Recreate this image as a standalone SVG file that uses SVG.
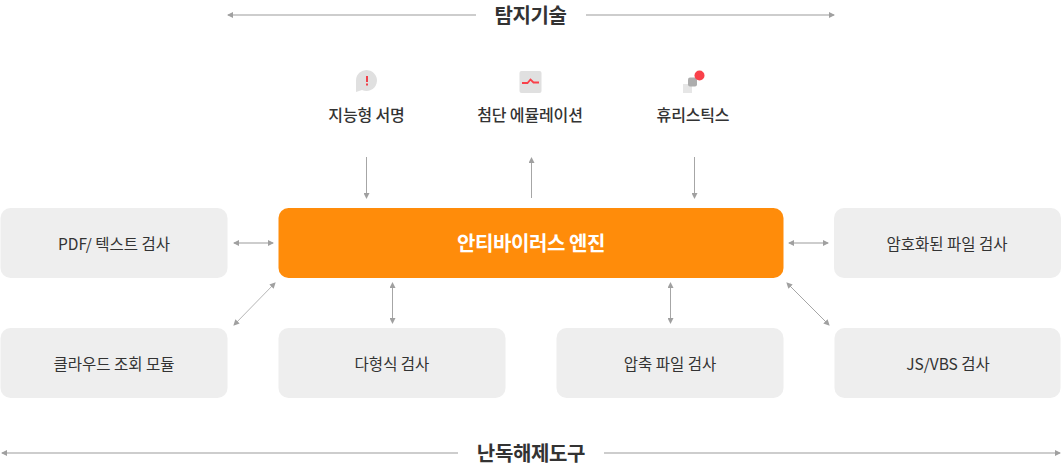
<svg xmlns="http://www.w3.org/2000/svg" width="1062" height="468" viewBox="0 0 1062 468">
<style>
text{font-family:"Noto Sans CJK KR","Noto Sans",sans-serif;text-anchor:middle;fill:#333}
.lab{font-size:15.500px;font-weight:400}
.head{font-size:20px;font-weight:700;fill:#333;letter-spacing:-.35px}
.sub{font-size:16px;font-weight:500;letter-spacing:-.15px}
.box{fill:#eeeeee}
.c{stroke:#a6a6a6;stroke-width:1;fill:none;marker-end:url(#a);marker-start:url(#b)}
.o{marker-start:none}
.h{stroke:#bcbcbc;stroke-width:1.500}
</style>
<defs>
<marker id="a" viewBox="0 0 6 6" refX="5" refY="3" markerWidth="6" markerHeight="6" orient="auto" markerUnits="userSpaceOnUse"><path d="M0 0L6 3L0 6Z" fill="#a0a0a0"/></marker>
<marker id="b" viewBox="0 0 6 6" refX="1" refY="3" markerWidth="6" markerHeight="6" orient="auto" markerUnits="userSpaceOnUse"><path d="M6 0L0 3L6 6Z" fill="#a0a0a0"/></marker>
</defs>
<g id="connectors">
<path class="c o h" d="M476 15H228" />
<path class="c o h" d="M586 15H834" />
<path class="c o h" d="M458 453H2" />
<path class="c o h" d="M604 453H1060" />
<path class="c o" d="M366.500 157V198" />
<path class="c o" d="M531.500 198V158" />
<path class="c o" d="M694.500 157V198" />
<path class="c h" d="M234 243H273" />
<path class="c h" d="M789 243H828" />
<path class="c" d="M392.500 283V323" />
<path class="c" d="M670.500 283V323" />
<path class="c" d="M234 325L275 283" style="stroke:#b5b5b5"/>
<path class="c" d="M787 283L829 325" />
</g>
<g id="title-top"><text class="head" x="530.500" y="23">탐지기술</text></g>
<g id="title-bottom"><text class="head" x="531" y="461">난독해제도구</text></g>
<g id="node-signature">
<path d="M356 92V80.500A10.500 10.500 0 1 1 362 90Z" fill="#e0e0e0"/>
<rect x="366" y="76" width="2" height="6" fill="#f0414a"/><rect x="366" y="83.500" width="2" height="2" fill="#f0414a"/>
<text class="sub" x="366.500" y="121">지능형 서명</text>
</g>
<g id="node-emulation">
<rect x="519.500" y="71" width="22" height="22" rx="2" fill="#e0e0e0"/>
<path d="M522 83H527.500L530.500 79.500L533.500 82.500H539" fill="none" stroke="#f9414a" stroke-width="1.800"/>
<text class="sub" x="530" y="121">첨단 에뮬레이션</text>
</g>
<g id="node-heuristic">
<rect x="683" y="84" width="9" height="9" fill="#e6e6e6"/>
<rect x="688" y="77.500" width="9" height="9" rx="2" fill="#adadad"/>
<circle cx="699.500" cy="75.500" r="5" fill="#f9414a"/>
<text class="sub" x="693" y="121">휴리스틱스</text>
</g>
<g id="node-engine">
<rect x="278.500" y="208" width="505" height="70" rx="10" fill="#ff8c0a"/>
<text x="531" y="251" style="font-size:20px;font-weight:700;fill:#fff;letter-spacing:-.4px">안티바이러스 엔진</text>
</g>
<g id="node-pdf"><rect class="box" x="0.500" y="208" width="227" height="70" rx="10"/><text class="lab" x="114" y="249.500">PDF/ 텍스트 검사</text></g>
<g id="node-crypt"><rect class="box" x="834" y="208" width="227" height="70" rx="10"/><text class="lab" x="947" y="249.500">암호화된 파일 검사</text></g>
<g id="node-cloud"><rect class="box" x="0.500" y="328" width="227" height="70" rx="10"/><text class="lab" x="114" y="369.500">클라우드 조회 모듈</text></g>
<g id="node-poly"><rect class="box" x="278.500" y="328" width="227" height="70" rx="10"/><text class="lab" x="392" y="369.500">다형식 검사</text></g>
<g id="node-zip"><rect class="box" x="556.500" y="328" width="227" height="70" rx="10"/><text class="lab" x="670" y="369.500">압축 파일 검사</text></g>
<g id="node-js"><rect class="box" x="834.500" y="328" width="226" height="70" rx="10"/><text class="lab" x="948" y="369.500">JS/VBS 검사</text></g>
</svg>
